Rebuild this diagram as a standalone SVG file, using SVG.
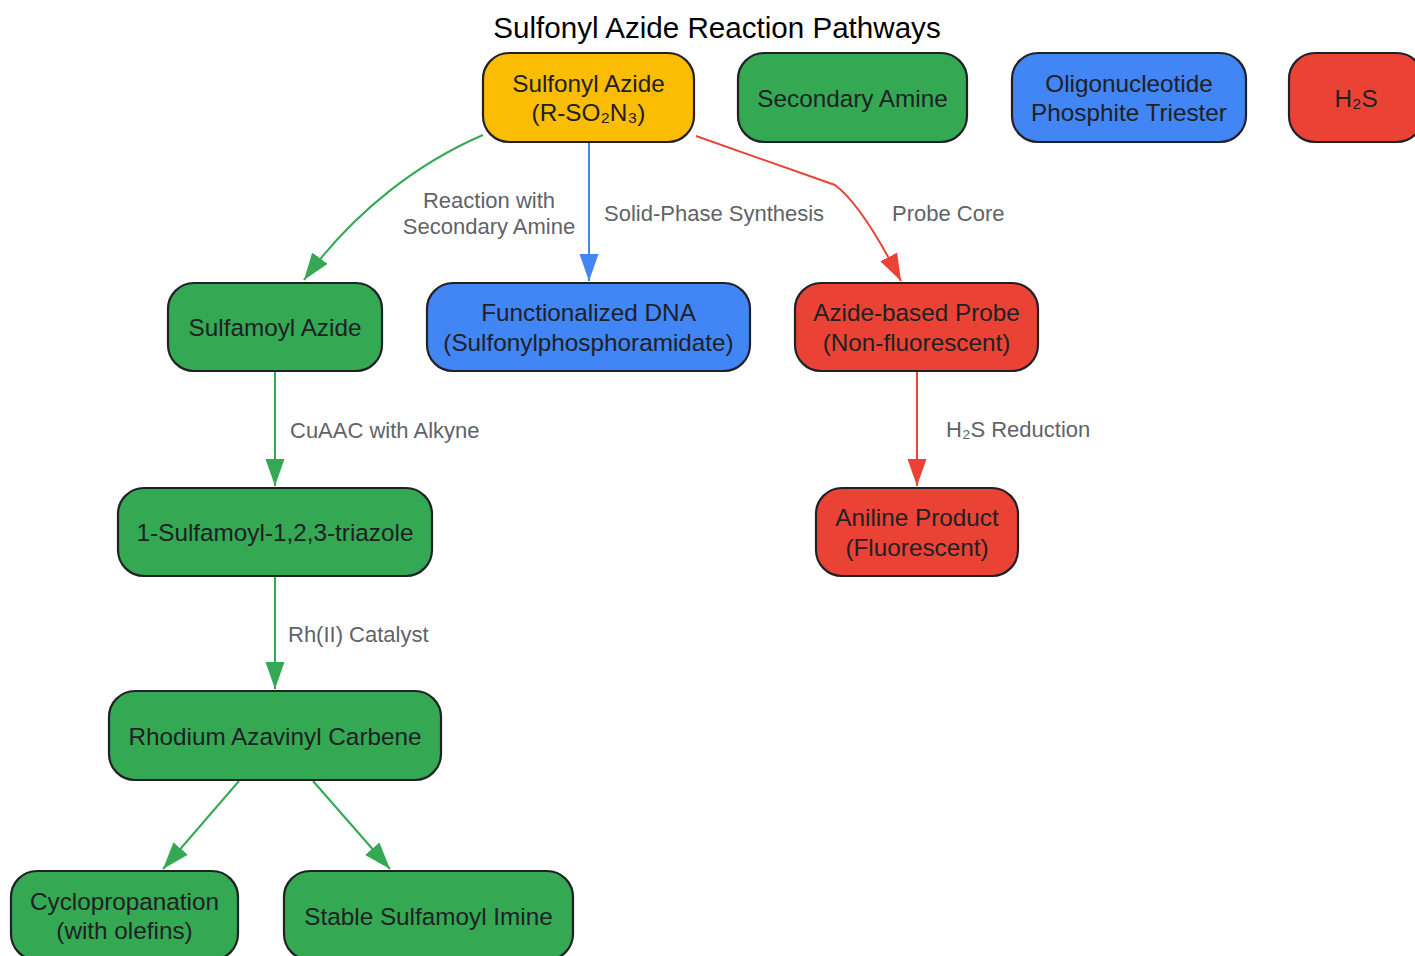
<svg xmlns="http://www.w3.org/2000/svg" width="1415" height="956" viewBox="0 0 1415 956">
<style>
.node rect{stroke:#202124;stroke-width:2.2}
.node text{font-family:"Liberation Sans",Arial,sans-serif;font-size:24.3px;fill:#202124;text-anchor:middle;dominant-baseline:central}
.g rect{fill:#34a853}.b rect{fill:#4285f4}.r rect{fill:#ea4335}.y rect{fill:#fbbc04}
.edge{fill:none;stroke-width:2}
.eg{stroke:#34a853}.eb{stroke:#4285f4}.er{stroke:#ea4335}
.lbl{font-family:"Liberation Sans",Arial,sans-serif;font-size:22px;fill:#5f6368;dominant-baseline:central}
.title{font-family:"Liberation Sans",Arial,sans-serif;font-size:29.6px;fill:#000;text-anchor:middle;dominant-baseline:central}
</style>
<defs>
<marker id="ag" markerUnits="userSpaceOnUse" markerWidth="28" markerHeight="20" refX="27" refY="9.5" orient="auto"><path d="M0,0 L27,9.5 L0,19 Z" fill="#34a853"/></marker>
<marker id="ab" markerUnits="userSpaceOnUse" markerWidth="28" markerHeight="20" refX="27" refY="9.5" orient="auto"><path d="M0,0 L27,9.5 L0,19 Z" fill="#4285f4"/></marker>
<marker id="ar" markerUnits="userSpaceOnUse" markerWidth="28" markerHeight="20" refX="27" refY="9.5" orient="auto"><path d="M0,0 L27,9.5 L0,19 Z" fill="#ea4335"/></marker>
</defs>
<rect width="1415" height="956" fill="#fff"/>
<text class="title" x="717" y="27">Sulfonyl Azide Reaction Pathways</text>

<g id="connectors">
<path class="edge eg" d="M483,135 C420,162 355,210 304,280" marker-end="url(#ag)"/>
<path class="edge eb" d="M589,143 L589,281" marker-end="url(#ab)"/>
<path class="edge er" d="M696,136 L835,185 Q862,205 901,281" marker-end="url(#ar)"/>
<path class="edge eg" d="M275,372 L275,486" marker-end="url(#ag)"/>
<path class="edge er" d="M917,372 L917,486" marker-end="url(#ar)"/>
<path class="edge eg" d="M275,577 L275,689" marker-end="url(#ag)"/>
<path class="edge eg" d="M239,781 L163,869" marker-end="url(#ag)"/>
<path class="edge eg" d="M313,781 L390,869" marker-end="url(#ag)"/>
<text class="lbl" x="489" y="200" text-anchor="middle">Reaction with</text>
<text class="lbl" x="489" y="226" text-anchor="middle">Secondary Amine</text>
<text class="lbl" x="604" y="213">Solid-Phase Synthesis</text>
<text class="lbl" x="892" y="213">Probe Core</text>
<text class="lbl" x="290" y="430">CuAAC with Alkyne</text>
<text class="lbl" x="946" y="429">H₂S Reduction</text>
<text class="lbl" x="288" y="634">Rh(II) Catalyst</text>
</g>

<g id="n-sulfonyl-azide" class="node y"><rect x="483" y="53" width="211" height="89" rx="26"/><text x="588.5" y="83">Sulfonyl Azide</text><text x="588.5" y="112">(R-SO₂N₃)</text></g>
<g id="n-secondary-amine" class="node g"><rect x="738" y="53" width="229" height="89" rx="26"/><text x="852.5" y="98">Secondary Amine</text></g>
<g id="n-oligo" class="node b"><rect x="1012" y="53" width="234" height="89" rx="26"/><text x="1129" y="83">Oligonucleotide</text><text x="1129" y="112">Phosphite Triester</text></g>
<g id="n-h2s" class="node r"><rect x="1289" y="53" width="134" height="89" rx="26"/><text x="1356" y="98">H₂S</text></g>
<g id="n-sulfamoyl-azide" class="node g"><rect x="168" y="283" width="214" height="88" rx="26"/><text x="275" y="327">Sulfamoyl Azide</text></g>
<g id="n-func-dna" class="node b"><rect x="427" y="283" width="323" height="88" rx="26"/><text x="588.5" y="312">Functionalized DNA</text><text x="588.5" y="342">(Sulfonylphosphoramidate)</text></g>
<g id="n-probe" class="node r"><rect x="795" y="283" width="243" height="88" rx="26"/><text x="916.5" y="312">Azide-based Probe</text><text x="916.5" y="342">(Non-fluorescent)</text></g>
<g id="n-triazole" class="node g"><rect x="118" y="488" width="314" height="88" rx="26"/><text x="275" y="532">1-Sulfamoyl-1,2,3-triazole</text></g>
<g id="n-aniline" class="node r"><rect x="816" y="488" width="202" height="88" rx="26"/><text x="917" y="517">Aniline Product</text><text x="917" y="547">(Fluorescent)</text></g>
<g id="n-carbene" class="node g"><rect x="109" y="691" width="332" height="89" rx="26"/><text x="275" y="736">Rhodium Azavinyl Carbene</text></g>
<g id="n-cyclo" class="node g"><rect x="11" y="871" width="227" height="89" rx="26"/><text x="124.5" y="901">Cyclopropanation</text><text x="124.5" y="930">(with olefins)</text></g>
<g id="n-imine" class="node g"><rect x="284" y="871" width="289" height="89" rx="26"/><text x="428.5" y="916">Stable Sulfamoyl Imine</text></g>
</svg>
